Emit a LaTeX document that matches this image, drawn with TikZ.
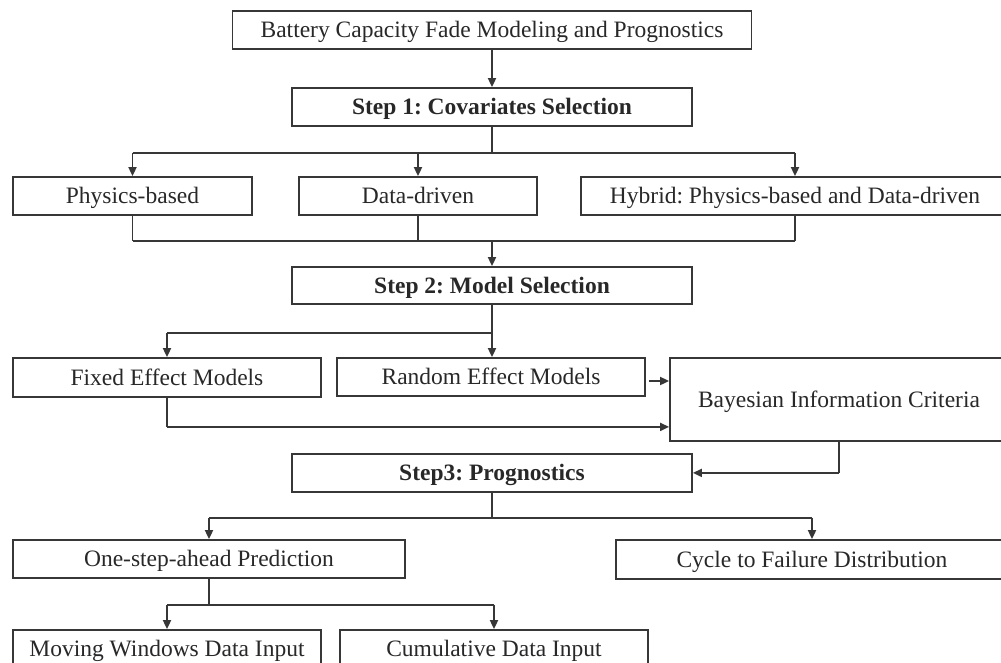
\documentclass[tikz,border=0pt]{standalone}
\usepackage{fontspec}
\setmainfont{Liberation Serif}
\usetikzlibrary{arrows.meta,calc}
\frenchspacing
\definecolor{ink}{RGB}{55,55,55}
\definecolor{txt}{RGB}{40,40,40}
\tikzset{
  box/.style={draw=ink, line width=1.8pt, rectangle, inner sep=0pt, align=center,
    text=txt, text height=15.5pt, text depth=0pt,
    font=\fontsize{23.5}{27}\selectfont},
  boldbox/.style={box, font=\fontsize{23.5}{27}\selectfont\bfseries},
  link/.style={draw=ink, line width=1.8pt},
  arr/.style={link, -{Triangle[length=9pt,width=8pt]}},
}
\begin{document}
\begin{tikzpicture}[x=1pt,y=-1pt]
\useasboundingbox (0,0) rectangle (1001,662);
\clip (0,0) rectangle (1001,662);
\fill[white] (0,0) rectangle (1001,662);

% boxes
\node[box, minimum width=519pt, minimum height=38pt] (title) at (492,30) {Battery Capacity Fade Modeling and Prognostics};
\node[boldbox, minimum width=400pt, minimum height=38pt] (s1) at (492,107) {Step 1: Covariates Selection};
\node[box, minimum width=239pt, minimum height=38pt] (phys) at (132.5,196) {Physics-based};
\node[box, minimum width=238pt, minimum height=38pt] (data) at (418,196) {Data-driven};
\node[box, minimum width=428pt, minimum height=38pt] (hyb) at (795,196) {Hybrid: Physics-based and Data-driven};
\node[boldbox, minimum width=400pt, minimum height=37pt] (s2) at (492,285.5) {Step 2: Model Selection};
\node[box, minimum width=308pt, minimum height=39pt] (fixed) at (167,377.5) {Fixed Effect Models};
\node[box, minimum width=308pt, minimum height=38pt] (rand) at (491,377) {Random Effect Models};
\node[box, minimum width=338pt, minimum height=83pt] (bic) at (839,399.5) {Bayesian Information Criteria};
\node[boldbox, minimum width=400pt, minimum height=38pt] (s3) at (492,473) {Step3: Prognostics};
\node[box, minimum width=392pt, minimum height=38pt] (one) at (209,559) {One-step-ahead Prediction};
\node[box, minimum width=392pt, minimum height=39pt] (cycle) at (812,559.5) {Cycle to Failure Distribution};
\node[box, minimum width=308pt, minimum height=38pt] (mov) at (167,649) {Moving Windows Data Input};
\node[box, minimum width=308pt, minimum height=38pt] (cum) at (494,649) {Cumulative Data Input};

% junction points
\coordinate (j1) at ($(s1.south)+(0,26)$);
\coordinate (j2) at ($(phys.south)+(0,25)$);
\coordinate (j3) at ($(s2.south)+(0,28)$);
\coordinate (j4) at ($(fixed.south)+(0,29)$);
\coordinate (j5) at ($(bic.south)+(0,31)$);
\coordinate (j6) at ($(s3.south)+(0,25)$);
\coordinate (j7) at ($(one.south)+(0,26)$);

% title to step 1
\draw[arr] (title.south) -- (s1.north);

% step 1 fan-out
\draw[link] (s1.south) -- (j1);
\draw[link] (phys.north |- j1) -- (hyb.north |- j1);
\draw[arr] (phys.north |- j1) -- (phys.north);
\draw[arr] (data.north |- j1) -- (data.north);
\draw[arr] (hyb.north |- j1) -- (hyb.north);

% covariates merge into step 2
\draw[link] (phys.south) -- (j2);
\draw[link] (data.south) -- (data.south |- j2);
\draw[link] (hyb.south) -- (hyb.south |- j2);
\draw[link] (j2) -- (hyb.south |- j2);
\draw[arr] (s2.north |- j2) -- (s2.north);

% step 2 fan-out
\draw[link] (s2.south) -- (j3);
\draw[link] (j3) -- (fixed.north |- j3);
\draw[arr] (fixed.north |- j3) -- (fixed.north);
\draw[arr] (j3) -- (j3 |- rand.north);

% models to BIC
\coordinate (r1) at ($(rand.east)+(3,4)$);
\draw[arr] (r1) -- (bic.west |- r1);
\draw[link] (fixed.south) -- (j4);
\draw[arr] (j4) -- (bic.west |- j4);

% BIC to step 3
\draw[link] (bic.south) -- (j5);
\draw[arr] (j5) -- (s3.east |- j5);

% step 3 fan-out
\draw[link] (s3.south) -- (j6);
\draw[link] (one.north |- j6) -- (cycle.north |- j6);
\draw[arr] (one.north |- j6) -- (one.north);
\draw[arr] (cycle.north |- j6) -- (cycle.north);

% prediction inputs
\draw[link] (one.south) -- (j7);
\draw[link] (mov.north |- j7) -- (cum.north |- j7);
\draw[arr] (mov.north |- j7) -- (mov.north);
\draw[arr] (cum.north |- j7) -- (cum.north);
\end{tikzpicture}
\end{document}
